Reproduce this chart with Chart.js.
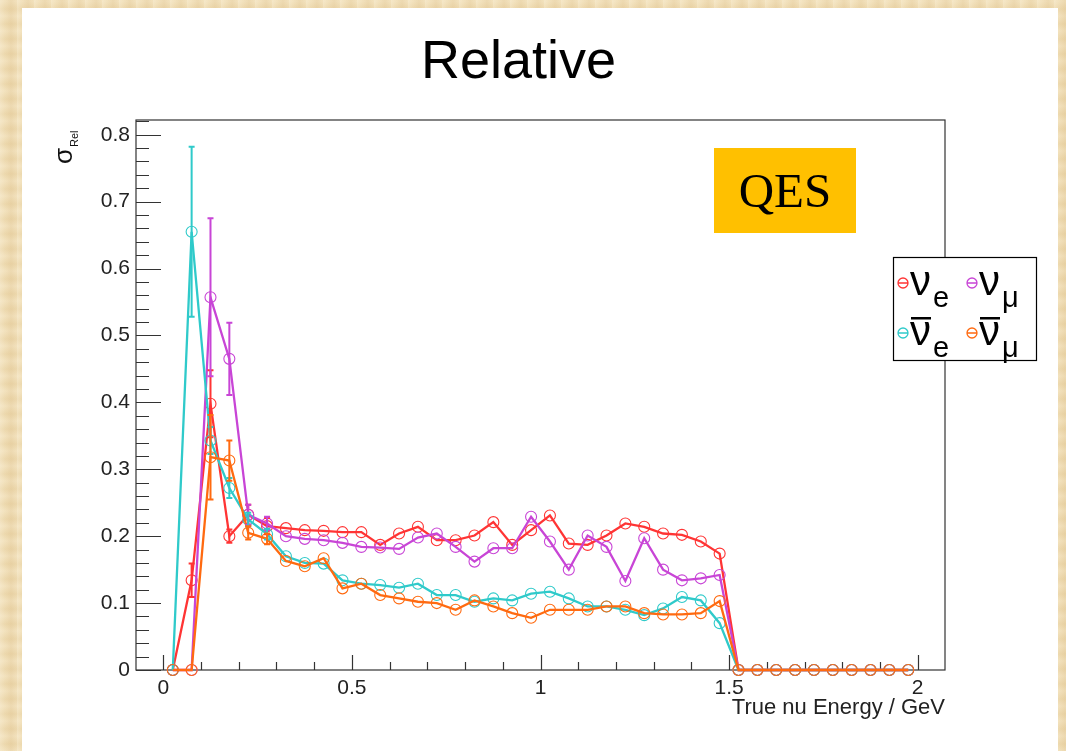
<!DOCTYPE html>
<html>
<head>
<meta charset="utf-8">
<title>Relative</title>
<script src="https://cdn.jsdelivr.net/npm/chart.js@4.4.1/dist/chart.umd.min.js"></script>
<style>
  html, body { margin: 0; padding: 0; }
  body {
    width: 1066px; height: 751px; overflow: hidden; position: relative;
    background-color: #f1deb5;
    background-image:
      repeating-linear-gradient(90deg, rgba(255,250,235,0.25) 0px, rgba(255,250,235,0) 5px, rgba(196,154,86,0.12) 11px, rgba(255,250,235,0) 17px),
      repeating-linear-gradient(0deg, rgba(255,255,255,0.12) 0px, rgba(180,140,70,0.08) 7px, rgba(255,255,255,0.12) 15px);
  }
  #sheet { position: absolute; left: 22px; top: 8px; width: 1036px; height: 760px; background: #fff; }
  #heading {
    position: absolute; left: 0; top: 32px; width: 1037px; text-align: center;
    font: 54px/54px "Comic Sans MS", "Liberation Sans", sans-serif; color: #000;
  }
  #wrap { position: absolute; left: 0; top: 0; width: 1066px; height: 751px; }
  #qes {
    position: absolute; left: 714px; top: 148px; width: 142px; height: 85px;
    background: #ffc000; color: #000; text-align: center;
    font: 49px/85px "Liberation Serif", serif;
  }
</style>
</head>
<body>
<div id="sheet"></div>
<div id="heading">Relative</div>
<div id="wrap"><canvas id="relChart"></canvas></div>
<div id="qes">QES</div>
<script>
// bin centres (GeV)
const binCenters = [0.025, 0.075, 0.125, 0.175, 0.225, 0.275, 0.325, 0.375, 0.425, 0.475,
  0.525, 0.575, 0.625, 0.675, 0.725, 0.775, 0.825, 0.875, 0.925, 0.975,
  1.025, 1.075, 1.125, 1.175, 1.225, 1.275, 1.325, 1.375, 1.425, 1.475,
  1.525, 1.575, 1.625, 1.675, 1.725, 1.775, 1.825, 1.875, 1.925, 1.975];

// relative sigma per bin
const nueValues = [0, 0.134, 0.398, 0.200, 0.232, 0.215, 0.212, 0.209, 0.208, 0.206,
  0.206, 0.187, 0.204, 0.214, 0.194, 0.194, 0.201, 0.221, 0.187, 0.209,
  0.231, 0.189, 0.187, 0.201, 0.219, 0.214, 0.204, 0.202, 0.192, 0.174,
  0, 0, 0, 0, 0, 0, 0, 0, 0, 0];
const numuValues = [0, 0, 0.557, 0.465, 0.232, 0.219, 0.200, 0.196, 0.194, 0.190,
  0.184, 0.183, 0.181, 0.198, 0.204, 0.184, 0.162, 0.182, 0.182, 0.229,
  0.192, 0.150, 0.201, 0.184, 0.133, 0.197, 0.150, 0.134, 0.137, 0.142,
  0, 0, 0, 0, 0, 0, 0, 0, 0, 0];
const nuebarValues = [0, 0.655, 0.343, 0.272, 0.225, 0.203, 0.170, 0.160, 0.159, 0.134,
  0.129, 0.127, 0.123, 0.129, 0.112, 0.112, 0.102, 0.107, 0.104, 0.114,
  0.117, 0.107, 0.095, 0.095, 0.090, 0.082, 0.092, 0.109, 0.104, 0.070,
  0, 0, 0, 0, 0, 0, 0, 0, 0, 0];
const numubarValues = [0, 0, 0.318, 0.313, 0.205, 0.196, 0.163, 0.155, 0.167, 0.122,
  0.129, 0.112, 0.107, 0.102, 0.100, 0.090, 0.104, 0.095, 0.085, 0.078,
  0.090, 0.090, 0.090, 0.095, 0.095, 0.085, 0.083, 0.083, 0.085, 0.103,
  0, 0, 0, 0, 0, 0, 0, 0, 0, 0];

// error bars (only the low-energy bins are larger than the markers)
const nueErrors = [0, 0.025, 0.05, 0.01, 0.015, 0.012];
const numuErrors = [0, 0, 0.118, 0.054, 0.015, 0.01];
const nuebarErrors = [0, 0.127, 0.02, 0.015, 0.01, 0.008];
const numubarErrors = [0, 0, 0.063, 0.03, 0.01, 0.008];

const xTickValues = [0, 0.5, 1, 1.5, 2];
const yTickValues = [0, 0.1, 0.2, 0.3, 0.4, 0.5, 0.6, 0.7, 0.8];

const TXT = "'Liberation Sans', Helvetica, Arial, sans-serif";

function series(label, sub, bar, values, errors, color, order) {
  return {
    label: label,
    legendSub: sub,
    legendBar: bar,
    errors: errors,
    data: binCenters.map((x, i) => ({ x: x, y: values[i] })),
    borderColor: color,
    backgroundColor: color,
    borderWidth: 2.3,
    pointRadius: 5.5,
    pointHoverRadius: 5.5,
    pointBorderWidth: 1.1,
    pointBackgroundColor: "rgba(255,255,255,0)",
    pointBorderColor: color,
    tension: 0,
    clip: false,
    order: order,
  };
}

// frame with inward ticks, ROOT style
const rootFrame = {
  id: "rootFrame",
  beforeDatasetsDraw(chart) {
    const { ctx, chartArea: a, scales } = chart;
    ctx.save();
    ctx.strokeStyle = "#333";
    ctx.lineWidth = 1.2;
    ctx.strokeRect(a.left, a.top, a.right - a.left, a.bottom - a.top);
    ctx.beginPath();
    for (let k = 0; k <= 41; k++) {
      const v = k * 0.02;
      if (v > scales.y.max) break;
      const y = Math.round(scales.y.getPixelForValue(v)) + 0.5;
      const len = k % 5 === 0 ? 25 : 13;
      ctx.moveTo(a.left, y);
      ctx.lineTo(a.left + len, y);
    }
    for (let k = 0; k <= 20; k++) {
      const x = Math.round(scales.x.getPixelForValue(k * 0.1)) + 0.5;
      const len = k % 5 === 0 ? 15 : 8;
      ctx.moveTo(x, a.bottom);
      ctx.lineTo(x, a.bottom - len);
    }
    ctx.stroke();
    ctx.restore();
  },
};

const errorBars = {
  id: "errorBars",
  afterDatasetsDraw(chart) {
    const { ctx, scales } = chart;
    ctx.save();
    ctx.lineWidth = 2;
    chart.data.datasets.forEach((ds) => {
      ctx.strokeStyle = ds.borderColor;
      ds.data.forEach((p, i) => {
        const e = ds.errors[i] || 0;
        if (!e) return;
        const x = scales.x.getPixelForValue(p.x);
        const y1 = scales.y.getPixelForValue(p.y + e);
        const y0 = scales.y.getPixelForValue(Math.max(p.y - e, 0));
        ctx.beginPath();
        ctx.moveTo(x, y0); ctx.lineTo(x, y1);
        ctx.moveTo(x - 3, y1); ctx.lineTo(x + 3, y1);
        ctx.moveTo(x - 3, y0); ctx.lineTo(x + 3, y0);
        ctx.stroke();
      });
    });
    ctx.restore();
  },
};

// y title (sigma_Rel) and the boxed 2x2 legend
const boxLegend = {
  id: "boxLegend",
  afterDraw(chart) {
    const ctx = chart.ctx;
    ctx.save();

    ctx.fillStyle = "#111";
    ctx.translate(72, 164);
    ctx.rotate(-Math.PI / 2);
    ctx.textBaseline = "alphabetic";
    ctx.textAlign = "left";
    ctx.font = "26px " + TXT;
    ctx.fillText("σ", 0, 0);
    const sw = ctx.measureText("σ").width;
    ctx.font = "11px " + TXT;
    ctx.fillText("Rel", sw + 1, 6);
    ctx.setTransform(1, 0, 0, 1, 0, 0);

    ctx.fillStyle = "#fff";
    ctx.fillRect(893, 257, 143, 103);
    ctx.strokeStyle = "#000";
    ctx.lineWidth = 1.2;
    ctx.strokeRect(893.5, 257.5, 143, 103);

    const cols = [903, 972];
    const rows = [283, 333];
    chart.data.datasets.forEach((ds, i) => {
      const cx = cols[i % 2];
      const cy = rows[Math.floor(i / 2)];
      ctx.strokeStyle = ds.borderColor;
      ctx.lineWidth = 1.3;
      ctx.beginPath();
      ctx.arc(cx, cy, 5, 0, Math.PI * 2);
      ctx.moveTo(cx - 5, cy);
      ctx.lineTo(cx + 5, cy);
      ctx.stroke();

      ctx.fillStyle = "#000";
      ctx.font = "42px " + TXT;
      const tx = cx + 7;
      const by = cy + 12;
      ctx.fillText("ν", tx, by);
      const nw = ctx.measureText("ν").width;
      if (ds.legendBar) ctx.fillRect(tx + 1, by - 28, nw - 1, 2.5);
      ctx.font = "29px " + TXT;
      ctx.fillText(ds.legendSub, tx + nw + 2, by + 12);
    });
    ctx.restore();
  },
};

const ctx = document.getElementById("relChart").getContext("2d");
new Chart(ctx, {
  type: "line",
  data: {
    datasets: [
      series("νe", "e", false, nueValues, nueErrors, "#ff3434", 3),
      series("νμ", "μ", false, numuValues, numuErrors, "#c845d6", 2),
      series("ν̄e", "e", true, nuebarValues, nuebarErrors, "#2fcaca", 1),
      series("ν̄μ", "μ", true, numubarValues, numubarErrors, "#ff6a10", 0),
    ],
  },
  options: {
    responsive: true,
    maintainAspectRatio: false,
    animation: false,
    layout: { padding: { left: 0, right: 121, top: 120, bottom: 0 } },
    plugins: {
      legend: { display: false },
      tooltip: { enabled: false },
    },
    scales: {
      x: {
        type: "linear",
        min: -0.0725,
        max: 2.0725,
        afterBuildTicks: (s) => { s.ticks = xTickValues.map((v) => ({ value: v })); },
        afterFit: (s) => { s.height = 81; },
        grid: { display: false, drawTicks: false },
        border: { display: false },
        ticks: {
          padding: 6,
          autoSkip: false,
          maxRotation: 0,
          color: "#222",
          font: { family: TXT, size: 21 },
          callback: (v) => String(+Number(v).toFixed(2)),
        },
        title: {
          display: true,
          text: "True nu Energy / GeV",
          align: "end",
          color: "#222",
          font: { family: TXT, size: 22 },
          padding: { top: 0, bottom: 30 },
        },
      },
      y: {
        type: "linear",
        min: 0,
        max: 0.822,
        afterBuildTicks: (s) => { s.ticks = yTickValues.map((v) => ({ value: v })); },
        afterFit: (s) => { s.width = 136; },
        grid: { display: false, drawTicks: false },
        border: { display: false },
        ticks: {
          padding: 6,
          autoSkip: false,
          color: "#222",
          font: { family: TXT, size: 21 },
          callback: (v) => String(+Number(v).toFixed(2)),
        },
      },
    },
  },
  plugins: [rootFrame, errorBars, boxLegend],
});
</script>
</body>
</html>
